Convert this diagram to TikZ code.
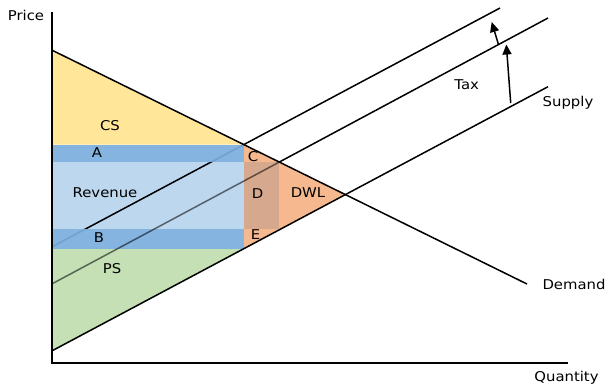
\documentclass[tikz,border=0pt]{standalone}
\usepackage{fontspec}
\setmainfont[FakeStretch=1.1]{DejaVu Sans}
\usetikzlibrary{arrows.meta}
\definecolor{cscol}{HTML}{FFE699}
\definecolor{bandcol}{HTML}{7BAEDD}
\definecolor{revcol}{HTML}{BDD7EE}
\definecolor{pscol}{HTML}{C5E0B4}
\definecolor{dwlcol}{HTML}{F5B88F}
\definecolor{dcol}{HTML}{D6A88E}

\begin{document}
\begin{tikzpicture}[x = 1pt, y = -1pt]
\tikzstyle{AreaLabel}=[anchor = base, inner sep = 0pt,
                       font = \fontsize{13.5}{16}\selectfont]
\tikzstyle{CurveStyle}=[line width = 1.5pt, black]
\tikzstyle{ShiftArrow}=[line width = 1.5pt, -{Triangle[length = 10pt, width = 9pt]}]
\useasboundingbox (0,0) rectangle (609,384);
\coordinate (o) at (51.7,363);
\coordinate (ytop) at (51.7,12);
\coordinate (xend) at (568,363);
\coordinate (d0) at (51.7,50);
\coordinate (d1) at (527,284);
\coordinate (s0a) at (51.7,351);
\coordinate (s0b) at (548,86.7);
\coordinate (s1a) at (51.7,284);
\coordinate (s1m) at (279.2,162.1);
\coordinate (s1b) at (548,18);
\coordinate (s2a) at (51.7,247);
\coordinate (s2b) at (500,8);
\coordinate (c) at (244,144.7);
\coordinate (eq) at (345.3,194.6);
\coordinate (e) at (244,248.6);
\coordinate (tl) at (51.7,144.7);
\coordinate (bl) at (51.7,248.6);
\coordinate (arA) at (510.7,103);
\coordinate (arB) at (506.3,44.5);
\coordinate (arC) at (498.3,44);
\coordinate (arD) at (491.7,22);
\fill[cscol] (d0) -- (c) -- (tl) -- cycle;
\fill[revcol] (51.7,162) rectangle (244,229);
\fill[pscol] (bl) -- (e) -- (s0a) -- cycle;
\fill[dwlcol] (c) -- (eq) -- (e) -- cycle;
\draw[CurveStyle] (s2a) -- (s2b);
\fill[bandcol, opacity = 0.92] (tl) rectangle (244,162);
\fill[bandcol, opacity = 0.92] (51.7,229) rectangle (e);
\fill[dcol] (244,162) rectangle (279,229);
\draw[CurveStyle, draw opacity = 0.55] (s1a) -- (s1m);
\draw[CurveStyle] (s1m) -- (s1b);
\draw[CurveStyle] (d0) -- (d1);
\draw[CurveStyle] (s0a) -- (s0b);
\draw[line width = 2pt] (ytop) -- (o) -- (xend);
\draw[ShiftArrow] (arA) -- (arB);
\draw[ShiftArrow] (arC) -- (arD);
\node[AreaLabel] (price) at (26,20) {Price};
\node[AreaLabel] (qty) at (566.5,381.7) {Quantity};
\node[AreaLabel] (cs) at (110,130) {CS};
\node[AreaLabel] (la) at (97,157.7) {A};
\node[AreaLabel] (rev) at (105,197) {Revenue};
\node[AreaLabel] (lb) at (99,242.7) {B};
\node[AreaLabel] (ps) at (112,273) {PS};
\node[AreaLabel] (lc) at (253,161) {C};
\node[AreaLabel] (ld) at (257.5,198.3) {D};
\node[AreaLabel] (dwl) at (308,197.7) {DWL};
\node[AreaLabel] (le) at (255.5,239.3) {E};
\node[AreaLabel] (tax) at (466.7,89.3) {Tax};
\node[AreaLabel] (supply) at (568,106.7) {Supply};
\node[AreaLabel] (demand) at (574,289.3) {Demand};
\end{tikzpicture}
\end{document}
